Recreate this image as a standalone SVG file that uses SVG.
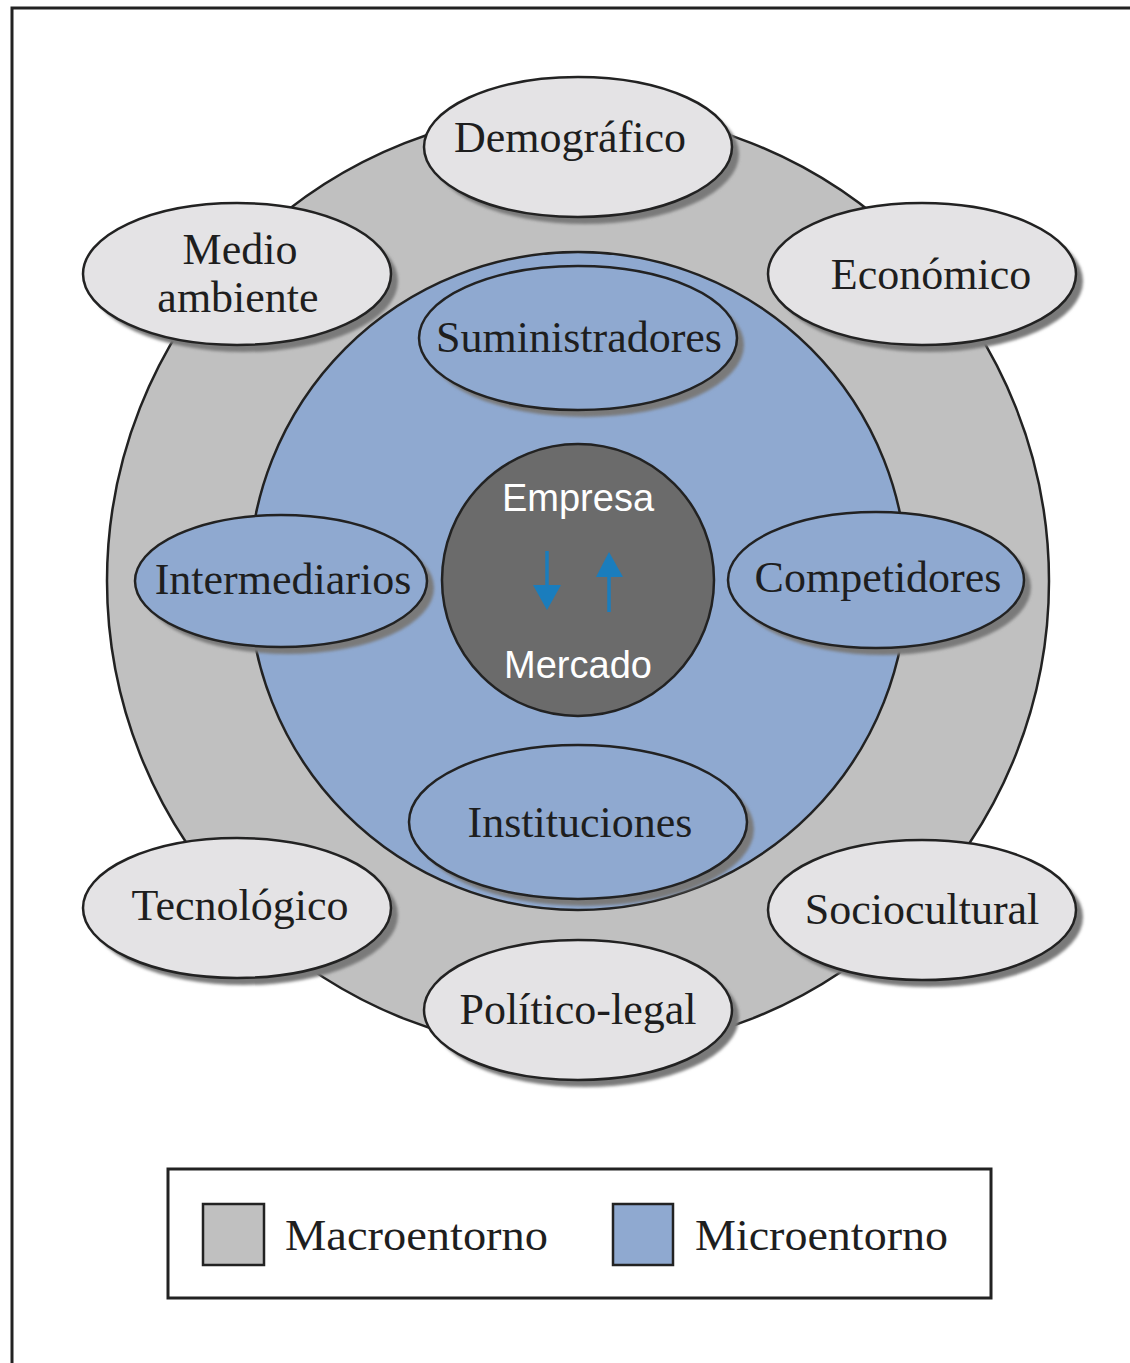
<svg xmlns="http://www.w3.org/2000/svg" width="1130" height="1363" viewBox="0 0 1130 1363">
<defs>
<filter id="blur" x="-10%" y="-10%" width="120%" height="120%"><feGaussianBlur stdDeviation="1.5"/></filter>
</defs>
<style>
.frame{fill:none;stroke:#222;stroke-width:3}
.macro{fill:#e4e3e5;stroke:#222;stroke-width:2.5}
.micro{fill:#8fa9d0;stroke:#222;stroke-width:2.5}
.shadow{fill:#7a7a7a;filter:url(#blur)}
.lbl{font-family:"Liberation Serif","Times New Roman",serif;font-size:44px;fill:#1e1e1e;text-anchor:middle}
.leg{font-family:"Liberation Serif","Times New Roman",serif;font-size:45px;fill:#1e1e1e;text-anchor:start}
.core{font-family:"Liberation Sans",Arial,sans-serif;font-size:38px;fill:#ffffff;text-anchor:middle}
.arrow{stroke:#1a7dbd;stroke-width:3.5;fill:none}
.head{fill:#1a7dbd}
</style>
<rect width="1130" height="1363" fill="#ffffff"/>
<path class="frame" d="M12,1363 V8 H1130"/>

<g id="macroentorno-ring"><circle cx="578" cy="581" r="471" fill="#c0c0c0" stroke="#222" stroke-width="2.5"/></g>
<g id="microentorno-ring"><circle cx="578" cy="581" r="329" fill="#8fa9d0" stroke="#222" stroke-width="2.5"/></g>

<g id="empresa-mercado">
<circle cx="578" cy="580" r="136" fill="#6b6b6b" stroke="#222" stroke-width="2.5"/>
<text class="core" x="578" y="511">Empresa</text>
<text class="core" x="578" y="678">Mercado</text>
</g>

<g id="connectors">
<line class="arrow" x1="547" y1="551" x2="547" y2="588"/>
<path class="head" d="M533,585 L561,585 L547,610 Z"/>
<line class="arrow" x1="609" y1="574" x2="609" y2="612"/>
<path class="head" d="M596,577 L623,577 L609,552 Z"/>
</g>

<g id="demografico">
<ellipse class="shadow" cx="585" cy="154" rx="154" ry="70"/>
<ellipse class="macro" cx="578" cy="147" rx="154" ry="70"/>
<text class="lbl" x="570" y="152">Demográfico</text>
</g>
<g id="medio-ambiente">
<ellipse class="shadow" cx="244" cy="281" rx="154" ry="71"/>
<ellipse class="macro" cx="237" cy="274" rx="154" ry="71"/>
<text class="lbl" x="240" y="264">Medio</text>
<text class="lbl" x="238" y="312">ambiente</text>
</g>
<g id="economico">
<ellipse class="shadow" cx="929" cy="281" rx="154" ry="71"/>
<ellipse class="macro" cx="922" cy="274" rx="154" ry="71"/>
<text class="lbl" x="931" y="289">Económico</text>
</g>
<g id="tecnologico">
<ellipse class="shadow" cx="244" cy="915" rx="154" ry="70"/>
<ellipse class="macro" cx="237" cy="908" rx="154" ry="70"/>
<text class="lbl" x="240" y="920">Tecnológico</text>
</g>
<g id="sociocultural">
<ellipse class="shadow" cx="929" cy="917" rx="154" ry="70"/>
<ellipse class="macro" cx="922" cy="910" rx="154" ry="70"/>
<text class="lbl" x="922" y="924">Sociocultural</text>
</g>
<g id="politico-legal">
<ellipse class="shadow" cx="585" cy="1017" rx="154" ry="70"/>
<ellipse class="macro" cx="578" cy="1010" rx="154" ry="70"/>
<text class="lbl" x="578" y="1024">Político-legal</text>
</g>

<g id="suministradores">
<ellipse class="shadow" cx="585" cy="345" rx="159" ry="72"/>
<ellipse class="micro" cx="578" cy="338" rx="159" ry="72"/>
<text class="lbl" x="579" y="352">Suministradores</text>
</g>
<g id="intermediarios">
<ellipse class="shadow" cx="288" cy="588" rx="146" ry="66"/>
<ellipse class="micro" cx="281" cy="581" rx="146" ry="66"/>
<text class="lbl" x="283" y="594">Intermediarios</text>
</g>
<g id="competidores">
<ellipse class="shadow" cx="883" cy="587" rx="148" ry="68"/>
<ellipse class="micro" cx="876" cy="580" rx="148" ry="68"/>
<text class="lbl" x="878" y="592">Competidores</text>
</g>
<g id="instituciones">
<ellipse class="shadow" cx="585" cy="829" rx="169" ry="77"/>
<ellipse class="micro" cx="578" cy="822" rx="169" ry="77"/>
<text class="lbl" x="580" y="837">Instituciones</text>
</g>

<g id="legend">
<rect x="168" y="1169" width="823" height="129" fill="#ffffff" stroke="#222" stroke-width="3"/>
<rect x="203" y="1204" width="61" height="61" fill="#c0c0c0" stroke="#222" stroke-width="2.5"/>
<text class="leg" x="285" y="1250" textLength="263" lengthAdjust="spacingAndGlyphs">Macroentorno</text>
<rect x="613" y="1204" width="60" height="61" fill="#8fa9d0" stroke="#222" stroke-width="2.5"/>
<text class="leg" x="695" y="1250" textLength="253" lengthAdjust="spacingAndGlyphs">Microentorno</text>
</g>
</svg>
